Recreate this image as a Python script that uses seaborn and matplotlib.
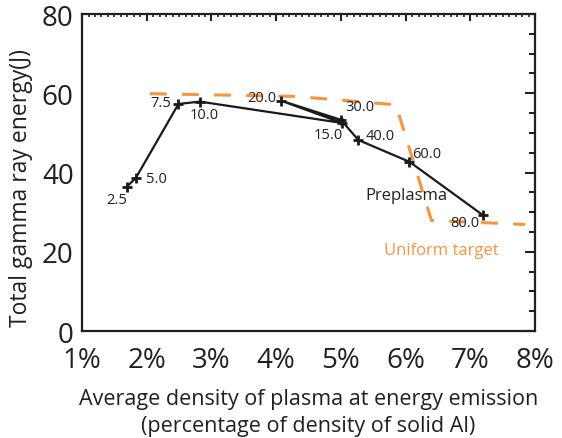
import matplotlib
matplotlib.use("Agg")
import matplotlib.pyplot as plt
from matplotlib.ticker import MultipleLocator, FuncFormatter
import seaborn as sns
import pandas as pd

# Preplasma runs: density at emission (% of solid Al) vs total gamma energy
preplasma_labels = ["2.5", "5.0", "7.5", "10.0", "15.0", "20.0", "30.0", "40.0", "60.0", "80.0"]
preplasma_density = [1.69, 1.83, 2.49, 2.82, 5.02, 4.08, 5.00, 5.27, 6.06, 7.19]
preplasma_energy = [36.4, 38.6, 57.3, 57.9, 52.5, 58.1, 53.3, 48.2, 42.7, 29.3]

# Uniform-target reference curve
uniform_density = [2.05, 4.30, 5.85, 6.40, 7.85]
uniform_energy = [59.9, 59.2, 57.1, 27.9, 26.9]

# label offsets in pixels (dx right, dy up) for each preplasma point
label_offsets = {
    "2.5": (-10, -13), "5.0": (21, 0), "7.5": (-18, 1), "10.0": (4, -13),
    "15.0": (-14, -12), "20.0": (-20, 3), "30.0": (19, 13), "40.0": (22, 5),
    "60.0": (17, 8), "80.0": (-18, -8),
}

sns.set_theme(style="white")
plt.rcParams["font.family"] = ["Open Sans", "DejaVu Sans"]

fig = plt.figure(figsize=(5.62, 4.39), dpi=100)
ax = fig.add_axes([0.146, 0.2437, 0.806, 0.7221])

orange = "#F7953F"
uni = pd.DataFrame({"d": uniform_density, "e": uniform_energy})
sns.lineplot(data=uni, x="d", y="e", sort=False, estimator=None, ax=ax,
             color=orange, linewidth=2.2, dashes=False)
ax.lines[-1].set_dashes((5.5, 5))

pre = pd.DataFrame({"d": preplasma_density, "e": preplasma_energy})
sns.lineplot(data=pre, x="d", y="e", sort=False, estimator=None, ax=ax,
             color="#1a1a1a", linewidth=1.6, marker="+", markersize=7.5,
             markeredgewidth=2.0, markeredgecolor="#1a1a1a")

for lab, xv, yv in zip(preplasma_labels, preplasma_density, preplasma_energy):
    dx, dy = label_offsets[lab]
    ax.annotate(lab, (xv, yv), xytext=(dx, dy), textcoords="offset pixels",
                ha="center", va="center", fontsize=10.5, color="#231f20")

ax.text(6.01, 34.3, "Preplasma", ha="center", va="center", fontsize=12,
        color="#231f20")
ax.text(6.55, 20.4, "Uniform target", ha="center", va="center", fontsize=12,
        color=orange)

ax.set_xlim(1, 8)
ax.set_ylim(0, 80)
ax.xaxis.set_major_locator(MultipleLocator(1))
ax.xaxis.set_minor_locator(MultipleLocator(0.1))
ax.yaxis.set_major_locator(MultipleLocator(20))
ax.yaxis.set_minor_locator(MultipleLocator(5))
ax.xaxis.set_major_formatter(FuncFormatter(lambda v, p: f"{int(round(v))}%"))

for s in ax.spines.values():
    s.set_visible(True)
    s.set_color("#231f20")
    s.set_linewidth(1.6)

ax.tick_params(axis="both", which="both", direction="in", top=True, right=True,
               color="#231f20", width=1.5)
ax.tick_params(axis="x", which="major", length=5, labelsize=20, pad=11,
               labelcolor="#231f20")
ax.tick_params(axis="x", which="minor", length=2, width=1.2)
ax.tick_params(axis="y", which="major", length=7, labelsize=20, pad=6,
               labelcolor="#231f20")
ax.tick_params(axis="y", which="minor", length=4)

ax.set_xlabel("Average density of plasma at energy emission\n(percentage of density of solid Al)",
              fontsize=15.5, color="#231f20", labelpad=10, linespacing=1.35)
ax.set_ylabel("Total gamma ray energy(J)", fontsize=16.5, color="#231f20")
ax.yaxis.set_label_coords(-0.108, 0.455)

fig.savefig("out.png", dpi=100)
